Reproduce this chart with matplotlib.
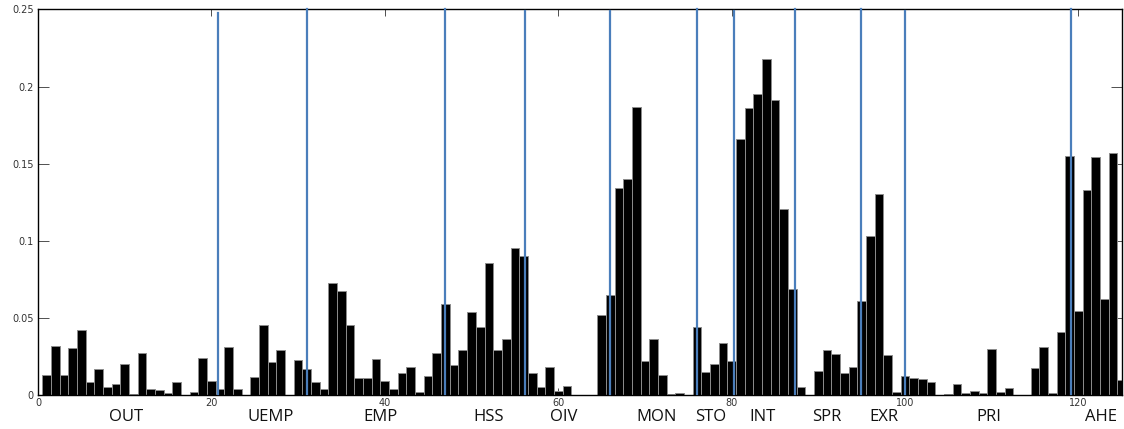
import matplotlib
matplotlib.use('Agg')
import matplotlib.pyplot as plt
import numpy as np

# значения столбцов (1..125)
values = [
    0.0131, 0.0317, 0.0131, 0.0302, 0.0420, 0.0082, 0.0170, 0.0054, 0.0071, 0.0200,
    0.0004, 0.0274, 0.0039, 0.0030, 0.0011, 0.0086, 0.0003, 0.0019, 0.0241, 0.0093,
    0.0039, 0.0310, 0.0039, 0.0003, 0.0116, 0.0455, 0.0213, 0.0293, 0.0003, 0.0224,
    0.0170, 0.0086, 0.0039, 0.0726, 0.0675, 0.0453, 0.0108, 0.0112, 0.0233, 0.0093,
    0.0039, 0.0140, 0.0183, 0.0022, 0.0123, 0.0272, 0.0588, 0.0192, 0.0293, 0.0539,
    0.0442, 0.0853, 0.0289, 0.0362, 0.0955, 0.0901, 0.0144, 0.0054, 0.0183, 0.0026,
    0.0058, 0.0003, 0.0003, 0.0003, 0.0520, 0.0650, 0.1344, 0.1400, 0.1867, 0.0220,
    0.0366, 0.0131, 0.0006, 0.0015, 0.0002, 0.0442, 0.0151, 0.0200, 0.0338, 0.0220,
    0.1660, 0.1860, 0.1949, 0.2176, 0.1912, 0.1206, 0.0685, 0.0054, 0.0003, 0.0153,
    0.0290, 0.0264, 0.0143, 0.0182, 0.0609, 0.1029, 0.1305, 0.0257, 0.0022, 0.0123,
    0.0112, 0.0104, 0.0084, 0.0003, 0.0009, 0.0073, 0.0011, 0.0026, 0.0011, 0.0296,
    0.0019, 0.0043, 0.0003, 0.0003, 0.0173, 0.0311, 0.0011, 0.0408, 0.1549, 0.0545,
    0.1329, 0.1541, 0.0620, 0.1569, 0.0097,
]
x = np.arange(1, len(values) + 1)

# границы групп (синие линии)
group_lines = [20.8, 31.0, 47.0, 56.2, 66.0, 76.0, 80.3, 87.3, 94.9, 100.0, 119.1]
line_tops = [0.248, 0.250, 0.250, 0.249, 0.249, 0.250, 0.249, 0.250, 0.250, 0.249, 0.250]

# подписи групп
group_names = ['OUT', 'UEMP', 'EMP', 'HSS', 'OIV', 'MON', 'STO', 'INT', 'SPR', 'EXR', 'PRI', 'AHE']
group_pos = [10.2, 26.8, 39.5, 52.0, 60.6, 71.3, 77.6, 83.6, 91.0, 97.6, 109.7, 122.6]

fig = plt.figure(figsize=(11.24, 4.29), dpi=100)
ax = fig.add_axes([0.0338, 0.0793, 0.9642, 0.8987])

ax.bar(x, values, width=1.0, color='black', edgecolor='#8c8c8c', linewidth=0.7, zorder=2)

for xl, top in zip(group_lines, line_tops):
    ax.plot([xl, xl], [0.0005, top], color='#4a7ebb', lw=1.6, zorder=3, clip_on=False)

ax.set_xlim(0, 125)
ax.set_ylim(0, 0.25)
ax.set_xticks([0, 20, 40, 60, 80, 100, 120])
ax.set_yticks([0, 0.05, 0.1, 0.15, 0.2, 0.25])
ax.set_yticklabels(['0', '0.05', '0.1', '0.15', '0.2', '0.25'])

ax.tick_params(axis='y', direction='in', length=8, width=0.6, color='#333333',
               labelsize=7, labelcolor='#333333', pad=3, right=True)
ax.tick_params(axis='x', direction='in', length=5, width=0.6, color='#333333',
               labelsize=7, labelcolor='#333333', pad=2, top=True)
for s in ax.spines.values():
    s.set_linewidth(1.0)
    s.set_color('black')

for name, pos in zip(group_names, group_pos):
    ax.text(pos, -0.0145, name, ha='center', va='center', fontsize=12,
            family='Open Sans', color='#111111', clip_on=False)

plt.savefig('out.png', dpi=100)
plt.close()
